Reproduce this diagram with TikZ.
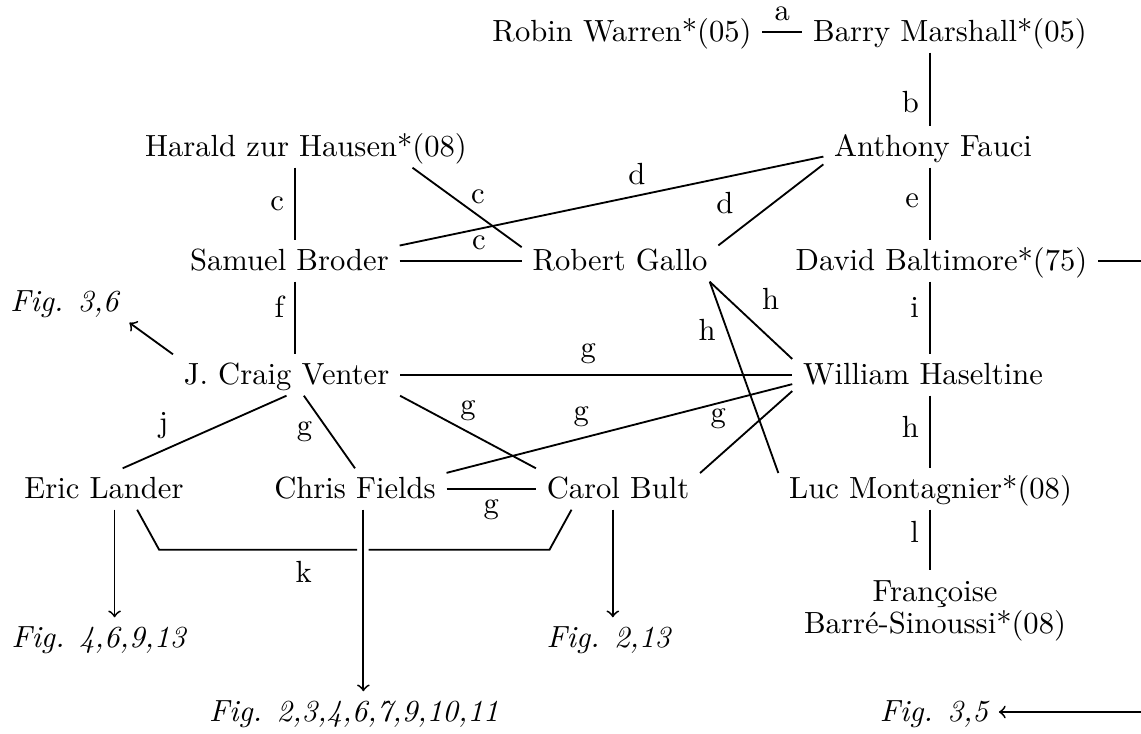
\documentclass[tikz,border=0pt]{standalone}

\begin{document}
\begin{tikzpicture}[x=0.3268pt,y=-0.3268pt,
    person/.style={text height=1.5ex,text depth=0pt},
    figref/.style={person,font=\itshape}]
    \useasboundingbox (0,0) rectangle (1141,733);
    \coordinate (colL) at (295,0); % left column of links
    \coordinate (colR) at (930,0); % right column of links
    % people
    \node (warren) at (622,32) [person] {Robin Warren*(05)};
    \node (marshall) at (950,32) [person] {Barry Marshall*(05)};
    \node (hausen) at (306,147) [person] {Harald zur Hausen*(08)};
    \node (fauci) at (933,147) [person] {Anthony Fauci};
    \node (broder) at (289.5,261) [person] {Samuel Broder};
    \node (gallo) at (620,261) [person] {Robert Gallo};
    \node (baltimore) at (941.5,261) [person] {David Baltimore*(75)};
    \node (venter) at (286.5,375) [person] {J. Craig Venter};
    \node (haseltine) at (923,375) [person] {William Haseltine};
    \node (lander) at (104,489) [person] {Eric Lander};
    \node (fields) at (355,489) [person] {Chris Fields};
    \node (bult) at (618,489) [person] {Carol Bult};
    \node (montagnier) at (930.5,489) [person] {Luc Montagnier*(08)};
    \node (francoise) at (935,611) [align=center] {Fran\c{c}oise\\[-1.7pt]Barr\'e-Sinoussi*(08)};
    % figure references
    \node (fig36) at (64.5,302) [figref] {Fig. 3,6};
    \node (fig4) at (98.5,638) [figref] {Fig. 4,6,9,13};
    \node (fig2b) at (608.5,638) [figref] {Fig. 2,13};
    \node (fig2a) at (354,712) [figref] {Fig. 2,3,4,6,7,9,10,11};
    \node (fig35) at (934,712) [figref] {Fig. 3,5};
    % links
    \draw[semithick] (warren.east) -- node[above] {a} (marshall.west);
    \draw[semithick] (marshall.south -| colR) -- node[left,pos=.67] {b} (fauci.north -| colR);
    \draw[semithick] (fauci.south -| colR) -- node[left,pos=.45] {e} (baltimore.north -| colR);
    \draw[semithick] (baltimore.south -| colR) -- node[left,pos=.35] {i} (haseltine.north -| colR);
    \draw[semithick] (haseltine.south -| colR) -- node[left,pos=.43] {h} (montagnier.north -| colR);
    \draw[semithick] (montagnier.south -| colR) -- node[left,pos=.37] {l} (francoise.north -| colR);
    \draw[semithick] (hausen.south -| colL) -- node[left] {c} (broder.north -| colL);
    \draw[semithick] (broder.south -| colL) -- node[left,pos=.35] {f} (venter.north -| colL);
    \draw[semithick] (hausen.-11) -- node[above,pos=.6] {c} (gallo.172);
    \draw[semithick] (broder.east) -- node[above,pos=.65] {c} (gallo.west);
    \draw[semithick] (broder.8) -- node[above,pos=.56] {d} (fauci.185);
    \draw[semithick] (fauci.189) -- node[above left,pos=.75] {d} (gallo.9);
    \draw[semithick] (gallo.-13) -- node[above right] {h} (haseltine.173);
    \draw[semithick] (gallo.-13) -- node[left,pos=.25] {h} (montagnier.174);
    \draw[semithick] (venter.east) -- node[above,pos=.48] {g} (haseltine.west);
    \draw[semithick] (venter.-50) -- node[left=2pt] {g} (fields.north);
    \draw[semithick] (venter.south east) -- node[above] {g} (bult.north west);
    \draw[semithick] (venter.south) -- node[above,pos=.75] {j} (lander.48);
    \draw[semithick] (fields.10) -- node[above,pos=.39] {g} (haseltine.184);
    \draw[semithick] (fields.east) -- node[below] {g} (bult.west);
    \draw[semithick] (bult.11) -- node[above left,pos=.4] {g} (haseltine.187);
    % k, broken where the arrow of Chris Fields passes
    \draw[semithick] (lander.-32) -- ++(22,40) -- ++(198,0) node[below,pos=.73] {k};
    \draw[semithick] (bult.-156) -- ++(-22,40) -- ++(-181,0);
    % arrows to the figures
    \draw[semithick,->] (venter.north west) -- (fig36.south east);
    \draw[semithick,->] (lander.-63) -- (lander.-63 |- fig4.north);
    \draw[semithick,->] (fields.-68) -- (fields.-68 |- fig2a.north);
    \draw[semithick,->] (bult.-104) -- (bult.-104 |- fig2b.north);
    \draw[semithick,->] (baltimore.east) -- ++(60,0) |- (fig35.east);
\end{tikzpicture}
\end{document}
